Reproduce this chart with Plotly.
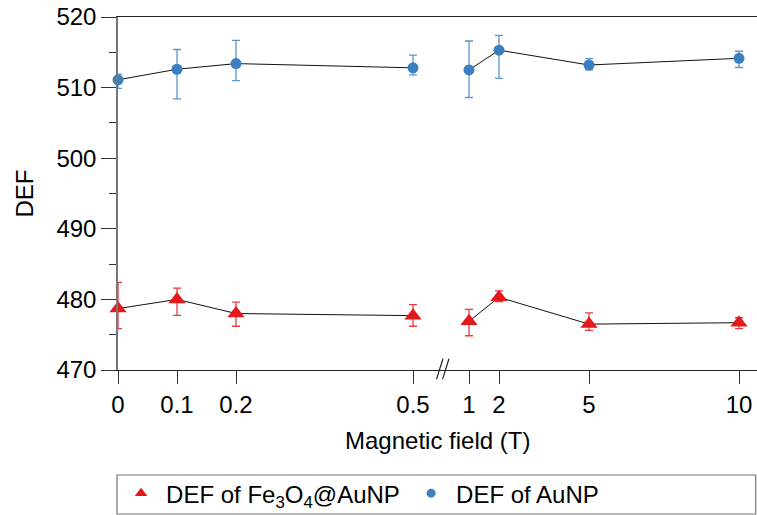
import plotly.graph_objects as go

# ---- data ----
field_low = [0, 0.1, 0.2, 0.5]
field_high = [1, 2, 5, 10]

au_low = [511.1, 512.6, 513.4, 512.8]
au_low_up = [0.8, 2.8, 3.3, 1.8]
au_low_dn = [1.2, 4.2, 2.4, 1.0]
au_high = [512.5, 515.3, 513.2, 514.15]
au_high_up = [4.1, 2.1, 0.9, 1.0]
au_high_dn = [3.9, 4.0, 0.7, 1.3]

fe_low = [478.7, 480.0, 478.0, 477.7]
fe_low_up = [3.7, 1.6, 1.6, 1.55]
fe_low_dn = [2.85, 2.25, 1.8, 1.5]
fe_high = [476.9, 480.3, 476.5, 476.7]
fe_high_up = [1.7, 0.9, 1.6, 0.7]
fe_high_dn = [2.05, 0.6, 0.9, 0.85]

low_ticks = [0, 0.1, 0.2, 0.5]
low_ticklabels = ["0", "0.1", "0.2", "0.5"]
high_ticks = [1, 2, 5, 10]
high_ticklabels = ["1", "2", "5", "10"]

FONT = "Liberation Sans, Arial, Helvetica, sans-serif"
BLUE = "#3a7fc0"
BLUE_ERR = "#5b95cf"
RED = "#e3191c"
RED_ERR = "#ea3b3f"

fig = go.Figure()

def add_series(x, y, up, dn, xa, color, ecolor, symbol, size):
    fig.add_trace(go.Scatter(
        x=x, y=y, xaxis=xa, yaxis="y", mode="lines+markers",
        line=dict(color="#111111", width=1),
        marker=dict(color=color, symbol=symbol, size=size),
        error_y=dict(type="data", symmetric=False, array=up, arrayminus=dn,
                     color=ecolor, thickness=1.3, width=4),
        cliponaxis=False, showlegend=False, hoverinfo="x+y"))

add_series(field_low, au_low, au_low_up, au_low_dn, "x", BLUE, BLUE_ERR, "circle", 11)
add_series(field_high, au_high, au_high_up, au_high_dn, "x2", BLUE, BLUE_ERR, "circle", 11)
add_series(field_low, fe_low, fe_low_up, fe_low_dn, "x", RED, RED_ERR, "triangle-up", 15)
add_series(field_high, fe_high, fe_high_up, fe_high_dn, "x2", RED, RED_ERR, "triangle-up", 15)

# legend-only entries
fig.add_trace(go.Scatter(x=[None], y=[None], mode="markers",
                         marker=dict(color=RED, symbol="triangle-up", size=11),
                         name="DEF of Fe<sub>3</sub>O<sub>4</sub>@AuNP"))
fig.add_trace(go.Scatter(x=[None], y=[None], mode="markers",
                         marker=dict(color=BLUE, symbol="circle", size=9),
                         name="DEF of AuNP"))

axis_common = dict(showgrid=False, zeroline=False, showline=True, linecolor="#222222",
                   linewidth=1, ticks="outside", ticklen=13, tickwidth=1, tickcolor="#333333",
                   tickfont=dict(size=24, color="black", family=FONT), mirror=True,
                   automargin=False)

fig.update_layout(
    width=757, height=515,
    margin=dict(l=118, r=0, t=17, b=145, autoexpand=False),
    paper_bgcolor="white", plot_bgcolor="white",
    font=dict(family=FONT, color="black"),
    xaxis=dict(domain=[0, 0.5], range=[0, 0.5415], tickvals=low_ticks,
               ticktext=low_ticklabels, anchor="y", **axis_common),
    xaxis2=dict(domain=[0.5, 1], range=[-0.05, 10.6], tickvals=high_ticks,
                ticktext=high_ticklabels, anchor="y", **axis_common),
    yaxis=dict(range=[470, 520], tickvals=[470, 480, 490, 500, 510, 520],
               showgrid=False, zeroline=False, showline=True, linecolor="#777777",
               linewidth=1.5, ticks="outside", ticklen=15, tickwidth=1, tickcolor="#333333",
               tickfont=dict(size=24, color="black", family=FONT), automargin=False,
               minor=dict(ticks="outside", ticklen=7, tickwidth=1, tickcolor="#333333",
                          dtick=5, showgrid=False)),
    legend=dict(orientation="h", x=-0.003, y=-0.35, xanchor="left", yanchor="middle",
                font=dict(size=24, family=FONT), bgcolor="rgba(0,0,0,0)",
                itemwidth=40, entrywidth=235, traceorder="normal"),
    annotations=[
        dict(text="Magnetic field (T)", xref="paper", yref="paper",
             x=0.5, y=-0.2, xanchor="center", yanchor="middle",
             showarrow=False, font=dict(size=24, family=FONT)),
        dict(text="DEF", xref="paper", yref="paper", x=-0.147, y=0.5,
             xanchor="center", yanchor="middle", textangle=-90,
             showarrow=False, font=dict(size=24, family=FONT)),
    ],
    shapes=[
        # legend frame
        dict(type="rect", xref="paper", yref="paper", x0=-0.0016, x1=0.998,
             y0=-0.408, y1=-0.2975, line=dict(color="#777777", width=1.2)),
        # axis break marks
        dict(type="line", xref="paper", yref="paper", x0=0.4985, x1=0.5085,
             y0=-0.026, y1=0.032, line=dict(color="#222222", width=1.2)),
        dict(type="line", xref="paper", yref="paper", x0=0.508, x1=0.518,
             y0=-0.026, y1=0.032, line=dict(color="#222222", width=1.2)),
    ],
)

fig.write_html("out.html", config={"displayModeBar": False},
               post_script="document.body.style.margin='0';document.body.style.overflow='hidden';")
